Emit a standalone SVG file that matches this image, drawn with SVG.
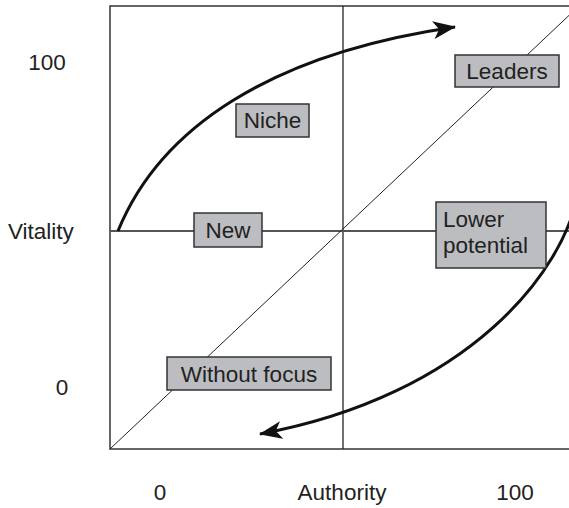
<svg xmlns="http://www.w3.org/2000/svg" width="569" height="508" viewBox="0 0 569 508">
<style>
text{font-family:"Liberation Sans",Arial,sans-serif;font-size:22.5px;fill:#222}
.box{fill:#bcbdc1;stroke:#333;stroke-width:1.5}
.frame{fill:none;stroke:#333;stroke-width:1.5}
.curve{fill:none;stroke:#111;stroke-width:3}
</style>
<defs>
<marker id="ah" markerWidth="24" markerHeight="18" refX="22" refY="9" orient="auto" markerUnits="userSpaceOnUse" viewBox="0 0 24 18">
<path d="M0,0 L23,9 L0,18 L6,9 Z" fill="#111"/>
</marker>
</defs>
<g id="axes">
<rect class="frame" x="110" y="6" width="475" height="443"/>
<line x1="343" y1="6" x2="343" y2="449" stroke="#222" stroke-width="1.3"/>
<line x1="110" y1="231" x2="585" y2="231" stroke="#555" stroke-width="2"/>
<line x1="110" y1="449" x2="580" y2="5" stroke="#222" stroke-width="1"/>
</g>
<g id="connectors">
<path class="curve" d="M118,231 C160,128 270,54 455,27" marker-end="url(#ah)"/>
<path class="curve" d="M578,192 C565,270 470,395 260,434" marker-end="url(#ah)"/>
</g>
<g id="labels">
<text x="47" y="70" text-anchor="middle">100</text>
<text x="8" y="239">Vitality</text>
<text x="62" y="395" text-anchor="middle">0</text>
<text x="160" y="500" text-anchor="middle">0</text>
<text x="342" y="500" text-anchor="middle">Authority</text>
<text x="515" y="500" text-anchor="middle">100</text>
</g>
<g id="leaders"><rect class="box" x="455" y="55" width="104" height="32"/><text x="507" y="79" text-anchor="middle">Leaders</text></g>
<g id="niche"><rect class="box" x="236" y="104" width="73" height="33"/><text x="272.5" y="128" text-anchor="middle">Niche</text></g>
<g id="new"><rect class="box" x="194" y="213" width="68" height="34"/><text x="228" y="238" text-anchor="middle">New</text></g>
<g id="lower"><rect class="box" x="436" y="202" width="110" height="66"/><text x="443" y="227">Lower</text><text x="443" y="253">potential</text></g>
<g id="without"><rect class="box" x="167" y="357" width="164" height="33"/><text x="249" y="382" text-anchor="middle">Without focus</text></g>
</svg>
